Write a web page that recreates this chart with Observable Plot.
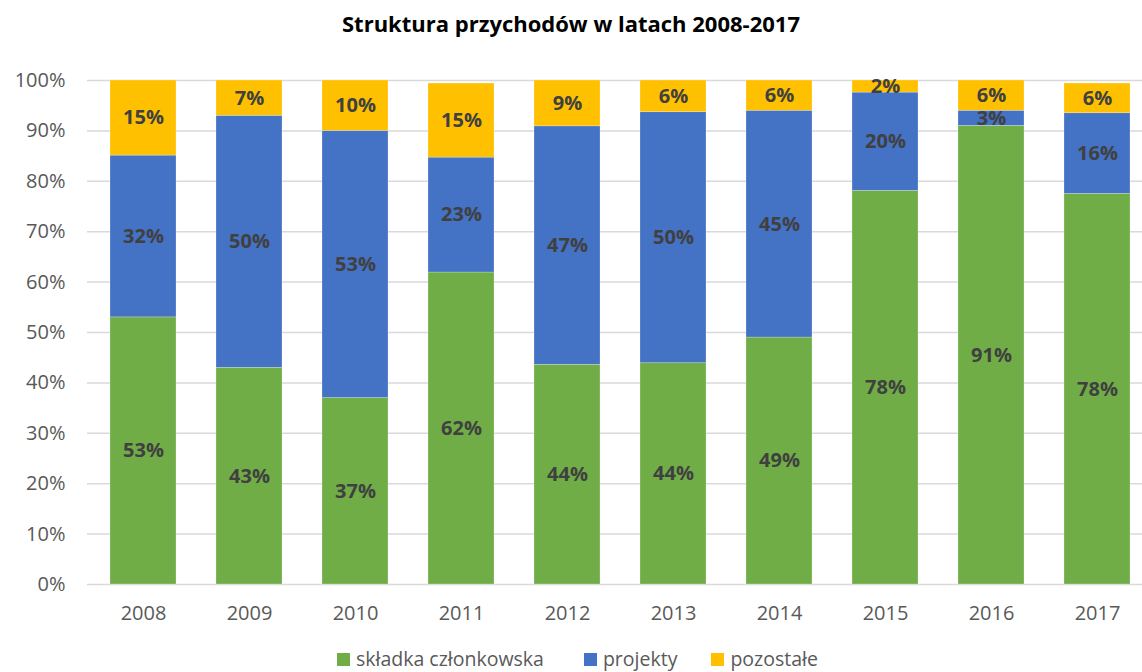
<!DOCTYPE html>
<html>
<head>
<meta charset="utf-8">
<script src="https://cdn.jsdelivr.net/npm/d3@7"></script>
<script src="https://cdn.jsdelivr.net/npm/@observablehq/plot@0.6"></script>
<style>
  html, body { margin: 0; padding: 0; background: #fff; overflow: hidden; }
  body { width: 1142px; height: 672px; position: relative; font-family: "Open Sans", sans-serif; }
  #title { position: absolute; left: 0; top: 0; width: 1142px; height: 46px; line-height: 46px; text-align: center; font-weight: bold; font-size: 22px; color: #000; }
  #chart { position: absolute; left: 0; top: 50px; }
  #legend { position: absolute; left: 337px; top: 648px; height: 22px; line-height: 22px; display: flex; align-items: center; font-size: 19.5px; color: #595959; }
  #legend span.item { display: flex; align-items: center; white-space: nowrap; }
  #legend span.sw { width: 13px; height: 13px; display: inline-block; margin-right: 6px; }
</style>
</head>
<body>
<div id="title">Struktura przychodów w latach 2008-2017</div>
<div id="chart"></div>
<div id="legend"></div>
<script>
const years = ["2008","2009","2010","2011","2012","2013","2014","2015","2016","2017"];
const skladka   = [53.0, 43.0, 37.0, 61.9, 43.6, 43.9, 49.0, 78.1, 91.0, 77.5];
const projekty  = [32.1, 50.0, 53.0, 22.8, 47.3, 49.8, 45.0, 19.5, 3.0, 16.0];
const pozostale = [14.9, 7.0, 10.0, 14.7, 9.1, 6.3, 6.0, 2.4, 6.0, 5.9];
const seriesNames = ["składka członkowska", "projekty", "pozostałe"];
const seriesColors = ["#70AD47", "#4472C4", "#FFC000"];
const yTicks = [0,10,20,30,40,50,60,70,80,90,100];

const seriesValues = [skladka, projekty, pozostale];
const rows = [];
years.forEach((yr, i) => {
  let base = 0;
  seriesValues.forEach((vals, s) => {
    const v = vals[i];
    rows.push({year: yr, series: seriesNames[s], value: v, y1: base, y2: base + v, label: Math.round(v) + "%"});
    base += v;
  });
});

const font = "'Open Sans', sans-serif";
const chart = Plot.plot({
  width: 1142,
  height: 586,
  marginTop: 30,
  marginBottom: 52,
  marginLeft: 87,
  marginRight: 0,
  style: {fontFamily: font, background: "#fff"},
  x: {domain: years, range: [87, 1153], paddingInner: 0.38, paddingOuter: 0.19, label: null},
  y: {domain: [0, 100], label: null},
  color: {domain: seriesNames, range: seriesColors},
  marks: [
    Plot.ruleY(yTicks, {stroke: "#d9d9d9", strokeWidth: 1.5}),
    Plot.barY(rows, {x: "year", y1: "y1", y2: "y2", fill: "series", stroke: "#ffffff", strokeOpacity: 0.4, strokeWidth: 0.6}),
    Plot.text(rows, {x: "year", y: d => (d.y1 + d.y2) / 2, text: "label", fill: "#404040", fontWeight: "bold", fontSize: 20}),
    Plot.axisY({ticks: yTicks, tickFormat: d => d + "%", tickSize: 0, tickPadding: 22, fontSize: 20, color: "#595959", label: null}),
    Plot.axisX({tickSize: 0, tickPadding: 21, fontSize: 20, color: "#595959", label: null})
  ]
});
document.getElementById("chart").appendChild(chart);

const legend = document.getElementById("legend");
const gaps = [0, 40, 34];
seriesNames.forEach((n, i) => {
  const it = document.createElement("span");
  it.className = "item";
  it.style.marginLeft = gaps[i] + "px";
  const sw = document.createElement("span");
  sw.className = "sw";
  sw.style.background = seriesColors[i];
  it.appendChild(sw);
  it.appendChild(document.createTextNode(n));
  legend.appendChild(it);
});
</script>
</body>
</html>
